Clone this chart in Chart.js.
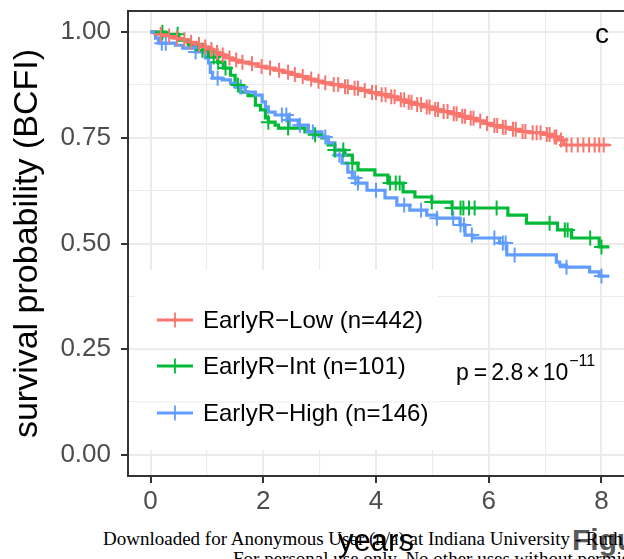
<!DOCTYPE html>
<html>
<head>
<meta charset="utf-8">
<script src="https://cdn.jsdelivr.net/npm/chart.js@4.4.0/dist/chart.umd.min.js"></script>
<style>
  html, body { margin: 0; padding: 0; background: #fff; overflow: hidden; }
  #wrap { position: relative; width: 624px; height: 559px; }
  #km { position: absolute; left: 0; top: 0; z-index: 2; }
  .note { position: absolute; font-family: 'Liberation Serif', serif; font-size: 19px; line-height: 19px; color: #000; white-space: nowrap; z-index: 1; }
  .fig { position: absolute; font-family: 'Liberation Sans', sans-serif; font-weight: bold; font-size: 30px; line-height: 30px; color: #5a5a5a; white-space: nowrap; z-index: 1; }
</style>
</head>
<body>
<div id="wrap">
  <div class="fig" style="left:572px; top:525px;">Figure 3</div>
  <div class="note" style="left:103px; top:529px;">Downloaded for Anonymous User (n/a) at Indiana University - Ruth Lilly Medical Library</div>
  <div class="note" style="left:233px; top:549px;">For personal use only. No other uses without permission.</div>
  <canvas id="km" width="624" height="559"></canvas>
</div>
<script>
const xMajor = [0, 2, 4, 6, 8];
const xMinor = [1, 3, 5, 7];
const xTickLabels = ['0', '2', '4', '6', '8'];
const yMajor = [0, 0.25, 0.5, 0.75, 1];
const yMinor = [0.125, 0.375, 0.625, 0.875];
const yTickLabels = ['0.00', '0.25', '0.50', '0.75', '1.00'];

const groups = ['EarlyR\u2212Low (n=442)', 'EarlyR\u2212Int (n=101)', 'EarlyR\u2212High (n=146)'];
const colors = ['#F8766D', '#00BA38', '#619CFF'];

// EarlyR-Low: event times and survival after each drop
const lowTime = [0, 0.12, 0.25, 0.4, 0.52, 0.66, 0.8, 0.92, 1.02, 1.12, 1.22, 1.33, 1.45, 1.56, 1.75, 1.91,
  2.05, 2.2, 2.35, 2.5, 2.62, 2.78, 2.92, 3.05, 3.2, 3.38, 3.55, 3.72, 3.88, 4.05, 4.22, 4.38, 4.52, 4.68,
  4.85, 5.0, 5.15, 5.32, 5.48, 5.62, 5.78, 5.92, 6.05, 6.2, 6.38, 6.55, 6.72, 6.98, 7.12, 7.24, 7.33, 8.14];
const lowSurv = [1, 0.995, 0.991, 0.986, 0.982, 0.976, 0.971, 0.965, 0.959, 0.952, 0.946, 0.939, 0.934, 0.929, 0.925, 0.919,
  0.915, 0.91, 0.905, 0.9, 0.895, 0.889, 0.884, 0.88, 0.876, 0.871, 0.867, 0.862, 0.857, 0.852, 0.847, 0.84, 0.834, 0.829,
  0.823, 0.817, 0.812, 0.807, 0.801, 0.796, 0.79, 0.784, 0.779, 0.775, 0.77, 0.765, 0.762, 0.758, 0.752, 0.745, 0.733, 0.733];
const lowCensor = [0.18, 0.33, 0.47, 0.6, 0.72, 0.86, 0.97, 1.08, 1.18, 1.28, 1.4, 1.52, 1.63, 1.8, 1.97, 2.12, 2.28,
  2.44, 2.56, 2.7, 2.85, 2.98, 3.1, 3.25, 3.33, 3.45, 3.5, 3.62, 3.68, 3.8, 3.93, 4.0, 4.1, 4.17, 4.27, 4.33, 4.44,
  4.5, 4.58, 4.63, 4.73, 4.8, 4.9, 4.95, 5.05, 5.1, 5.2, 5.27, 5.38, 5.43, 5.53, 5.58, 5.68, 5.73, 5.85, 5.97, 6.1,
  6.15, 6.25, 6.3, 6.43, 6.48, 6.6, 6.65, 6.78, 6.85, 6.92, 7.03, 7.08, 7.17, 7.2, 7.28, 7.38, 7.47, 7.58, 7.68,
  7.78, 7.88, 7.96, 8.04];

// EarlyR-Int
const intTime = [0, 0.27, 0.5, 0.67, 0.85, 1.03, 1.19, 1.29, 1.42, 1.5, 1.6, 1.73, 1.86, 1.95, 2.04, 2.09, 2.21,
  2.27, 2.74, 2.92, 3.04, 3.15, 3.27, 3.45, 3.58, 3.68, 3.98, 4.21, 4.48, 4.69, 4.99, 5.35, 6.34, 6.67, 7.22,
  7.47, 7.96, 8.14];
const intSurv = [1, 0.995, 0.981, 0.969, 0.957, 0.941, 0.929, 0.915, 0.898, 0.875, 0.858, 0.85, 0.827, 0.816,
  0.797, 0.787, 0.78, 0.773, 0.764, 0.757, 0.75, 0.733, 0.721, 0.709, 0.69, 0.674, 0.662, 0.643, 0.622, 0.61,
  0.598, 0.584, 0.567, 0.548, 0.532, 0.513, 0.492, 0.492];
const intCensor = [0.21, 0.48, 0.92, 1.12, 1.2, 1.33, 1.55, 2.09, 2.44, 2.92, 3.27, 3.42, 3.58, 4.25, 4.35, 4.42,
  4.99, 5.35, 5.5, 5.55, 5.65, 5.75, 6.14, 7.08, 7.35, 7.4, 7.8, 8.0];

// EarlyR-High
const highTime = [0, 0.09, 0.14, 0.44, 0.57, 0.8, 0.97, 1.03, 1.06, 1.1, 1.27, 1.42, 1.5, 1.68, 1.86, 1.98, 2.04,
  2.09, 2.21, 2.44, 2.62, 2.8, 3.04, 3.15, 3.27, 3.4, 3.5, 3.58, 3.68, 3.84, 4.16, 4.37, 4.6, 4.9, 5.08, 5.49,
  5.58, 5.72, 6.19, 6.32, 7.2, 7.26, 7.38, 7.79, 7.96, 8.14];
const highSurv = [1, 0.986, 0.974, 0.969, 0.962, 0.953, 0.939, 0.927, 0.905, 0.891, 0.887, 0.879, 0.87, 0.858,
  0.851, 0.835, 0.823, 0.811, 0.804, 0.792, 0.78, 0.764, 0.752, 0.738, 0.709, 0.69, 0.669, 0.655, 0.643, 0.626,
  0.608, 0.591, 0.579, 0.567, 0.56, 0.544, 0.52, 0.513, 0.501, 0.473, 0.456, 0.449, 0.444, 0.433, 0.423, 0.423];
const highCensor = [0.2, 0.27, 0.8, 1.19, 1.6, 2.33, 2.41, 2.47, 2.65, 2.88, 3.1, 3.35, 3.63, 3.68, 4.0, 4.5, 4.8,
  5.08, 5.37, 5.5, 5.56, 5.7, 6.1, 6.25, 6.3, 6.46, 7.38, 8.0];

const pLabel = ['p', '=', '2.8', '\u00d7', '10'];
const pExponent = '\u221211';
const panelTag = 'c';

const curves = [
  { label: groups[0], color: colors[0], times: lowTime, surv: lowSurv, censor: lowCensor },
  { label: groups[1], color: colors[1], times: intTime, surv: intSurv, censor: intCensor },
  { label: groups[2], color: colors[2], times: highTime, surv: highSurv, censor: highCensor },
];

const survAt = (times, surv, t) => {
  let s = surv[0];
  for (let i = 0; i < times.length; i++) {
    if (times[i] <= t) s = surv[i];
  }
  return s;
};

const datasets = [];
curves.forEach((c, i) => {
  datasets.push({
    label: c.label,
    data: c.times.map((t, k) => ({ x: t, y: c.surv[k] })),
    borderColor: c.color,
    borderWidth: 3.2,
    stepped: true,
    pointRadius: 0,
    fill: false,
    order: 3 - i,
  });
});
curves.forEach((c) => {
  datasets.push({
    label: c.label + ' censor',
    data: c.censor.map((t) => ({ x: t, y: survAt(c.times, c.surv, t) })),
    showLine: false,
    pointStyle: 'cross',
    pointRadius: 7.5,
    borderColor: c.color,
    borderWidth: 2,
    order: 0,
  });
});

const FONT = "'Liberation Sans', Arial, sans-serif";
const GRID = '#EBEBEB';
const DARK = '#333333';

const isMajor = (list, v) => list.some((m) => Math.abs(m - v) < 1e-9);

const panelExtras = {
  id: 'panelExtras',
  beforeDatasetsDraw(chart) {
    const { ctx, scales: { y } } = chart;
    ctx.save();
    // legend background hides the grid behind it
    ctx.fillStyle = '#fff';
    ctx.fillRect(135, 270, 303, 180);
    ctx.strokeStyle = GRID;
    [0.25, 0.125].forEach((v) => {
      const py = y.getPixelForValue(v);
      ctx.lineWidth = isMajor(yMajor, v) ? 2 : 1.1;
      ctx.beginPath();
      ctx.moveTo(135, py);
      ctx.lineTo(438, py);
      ctx.stroke();
    });
    ctx.restore();
  },
  afterDraw(chart) {
    const { ctx, chartArea } = chart;
    ctx.save();
    // top panel border
    ctx.strokeStyle = DARK;
    ctx.lineWidth = 2;
    ctx.beginPath();
    ctx.moveTo(chartArea.left - 1, chartArea.top);
    ctx.lineTo(chartArea.right, chartArea.top);
    ctx.stroke();

    // legend
    const rows = [320, 366, 413];
    curves.forEach((c, i) => {
      const ry = rows[i];
      ctx.strokeStyle = c.color;
      ctx.lineWidth = 3.2;
      ctx.beginPath();
      ctx.moveTo(157, ry);
      ctx.lineTo(193, ry);
      ctx.stroke();
      ctx.lineWidth = 1.8;
      ctx.beginPath();
      ctx.moveTo(175, ry - 7.5);
      ctx.lineTo(175, ry + 7.5);
      ctx.stroke();
      ctx.fillStyle = '#000';
      ctx.font = '24px ' + FONT;
      ctx.textBaseline = 'middle';
      ctx.textAlign = 'left';
      ctx.fillText(c.label, 203, ry + 1);
    });

    // p-value
    ctx.fillStyle = '#000';
    ctx.textBaseline = 'alphabetic';
    ctx.font = '23px ' + FONT;
    const gaps = [5, 4, 3, 3, 0];
    let px = 456;
    pLabel.forEach((s, i) => {
      ctx.fillText(s, px, 380);
      px += ctx.measureText(s).width + gaps[i];
    });
    ctx.font = '16px ' + FONT;
    ctx.fillText(pExponent, px + 1, 366);

    // panel tag
    ctx.font = '28px ' + FONT;
    ctx.textAlign = 'center';
    ctx.fillText(panelTag, 602, 43);
    ctx.restore();
  },
};

new Chart(document.getElementById('km'), {
  type: 'line',
  data: { datasets: datasets },
  options: {
    responsive: false,
    animation: false,
    devicePixelRatio: 1,
    events: [],
    layout: { autoPadding: false, padding: { top: 11, right: 0, left: 0, bottom: 0 } },
    plugins: { legend: { display: false }, tooltip: { enabled: false } },
    scales: {
      x: {
        type: 'linear',
        min: -0.4,
        max: 8.4,
        afterBuildTicks: (scale) => {
          scale.ticks = xMajor.concat(xMinor).sort((a, b) => a - b).map((v) => ({ value: v }));
        },
        afterFit: (scale) => {
          scale.height = 83;
          scale.paddingLeft = 0;
          scale.paddingRight = 0;
        },
        ticks: {
          autoSkip: false,
          maxRotation: 0,
          padding: 3,
          color: '#4D4D4D',
          font: { family: FONT, size: 26 },
          callback: (v) => {
            const i = xMajor.findIndex((m) => Math.abs(m - v) < 1e-9);
            return i >= 0 ? xTickLabels[i] : '';
          },
        },
        grid: {
          color: GRID,
          lineWidth: (ctx) => (ctx.tick && isMajor(xMajor, ctx.tick.value) ? 2 : 1.1),
          drawTicks: true,
          tickLength: 7,
          tickWidth: 2,
          tickColor: (ctx) => (ctx.tick && isMajor(xMajor, ctx.tick.value) ? DARK : 'rgba(0,0,0,0)'),
        },
        border: { display: true, color: DARK, width: 2 },
        title: {
          display: true,
          text: 'years',
          color: '#000',
          font: { family: FONT, size: 31 },
          padding: { top: 0, bottom: -2 },
        },
      },
      y: {
        type: 'linear',
        min: -0.05,
        max: 1.05,
        afterBuildTicks: (scale) => {
          scale.ticks = yMajor.concat(yMinor).sort((a, b) => a - b).map((v) => ({ value: v }));
        },
        afterFit: (scale) => {
          scale.width = 128;
          scale.paddingTop = 0;
          scale.paddingBottom = 0;
        },
        ticks: {
          autoSkip: false,
          padding: 10,
          color: '#4D4D4D',
          font: { family: FONT, size: 26 },
          callback: (v) => {
            const i = yMajor.findIndex((m) => Math.abs(m - v) < 1e-9);
            return i >= 0 ? yTickLabels[i] : '';
          },
        },
        grid: {
          color: GRID,
          lineWidth: (ctx) => (ctx.tick && isMajor(yMajor, ctx.tick.value) ? 2 : 1.1),
          drawTicks: true,
          tickLength: 7,
          tickWidth: 2,
          tickColor: (ctx) => (ctx.tick && isMajor(yMajor, ctx.tick.value) ? DARK : 'rgba(0,0,0,0)'),
        },
        border: { display: true, color: DARK, width: 2 },
        title: {
          display: true,
          text: 'survival probability (BCFI)',
          color: '#000',
          font: { family: FONT, size: 34 },
          padding: { top: 7, bottom: 0 },
        },
      },
    },
  },
  plugins: [panelExtras],
});
</script>
</body>
</html>
